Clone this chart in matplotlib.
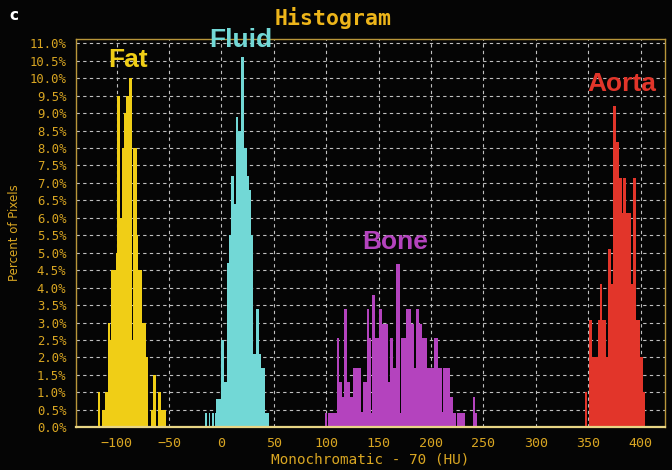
import matplotlib
matplotlib.use("Agg")
import matplotlib.pyplot as plt
from matplotlib.ticker import FuncFormatter, MultipleLocator

# ---- data (HU bin edges, percent of pixels) ----
fat_edges = [-118, -116, -114, -111, -108, -106, -105, -101, -100, -97, -95, -93, -91, -88,
             -85, -84, -81, -80, -76, -72, -70, -67, -65, -62, -61, -58, -53]
fat_pct = [1.0, 0, 0.5, 1.0, 3.0, 2.5, 4.5, 5.0, 9.5, 6.0, 8.0, 9.0, 9.5, 10.0,
           2.5, 8.0, 5.5, 4.5, 3.0, 2.0, 0, 0.5, 1.5, 0, 1.0, 0.5]

fluid_edges = [-16, -14, -12, -10.5, -9, -7.5, -6.5, -5, 0, 2.5, 5, 7, 9, 12, 13.5, 16,
               19, 21.5, 24, 26, 28.5, 30, 32.5, 35.5, 38, 42, 45]
fluid_pct = [0.4, 0, 0.4, 0, 0.4, 0, 0.4, 0.8, 2.5, 1.3, 4.7, 5.5, 7.2, 6.4, 8.9,
             8.5, 10.6, 8.0, 7.2, 6.8, 5.5, 2.1, 3.4, 2.1, 1.7, 0.4]

bone_edges = [99, 101, 102, 110, 112, 115, 117, 120, 123, 126, 133.5, 135, 139, 141, 143,
              144, 147, 150, 153, 159, 161, 164, 167, 170, 171, 176, 181, 184, 186, 189,
              191, 196, 203, 207, 210, 211, 218, 221, 224, 225, 232, 240, 242, 244]
bone_pct = [0.42, 0, 0.42, 2.55, 1.3, 0.88, 3.4, 1.3, 0.88, 1.7, 0.45, 1.3, 3.4, 2.55,
            0.42, 3.8, 2.55, 3.4, 2.96, 1.3, 2.55, 1.7, 4.67, 0.42, 2.55, 3.4, 2.96, 1.7,
            3.4, 2.96, 2.55, 1.7, 2.55, 1.7, 0.45, 1.7, 0.88, 0.42, 0, 0.42, 0, 0.88, 0.42]

aorta_edges = [347, 349, 351, 354, 359, 361.5, 363.5, 367, 369, 372, 374, 377, 379.5, 382,
               383, 386.5, 391, 393, 395.5, 399.5, 402.3, 404.5]
aorta_pct = [1.0, 0, 3.06, 2.0, 3.06, 4.1, 3.06, 2.0, 5.1, 4.1, 9.2, 8.16, 7.13, 6.14,
             7.13, 6.14, 4.1, 7.13, 3.06, 2.0, 1.0]

series = [
    ("Fat", fat_edges, fat_pct, "#F0CE16", (-89, 10.52)),
    ("Fluid", fluid_edges, fluid_pct, "#72D8D6", (18.5, 11.1)),
    ("Bone", bone_edges, bone_pct, "#B443BE", (166, 5.31)),
    ("Aorta", aorta_edges, aorta_pct, "#E2352A", (382, 9.84)),
]

x_ticks = [-100, -50, 0, 50, 100, 150, 200, 250, 300, 350, 400]

gold = "#D9A622"
bg = "#050505"

fig = plt.figure(figsize=(6.72, 4.70), dpi=100, facecolor=bg)
ax = fig.add_axes([0.1131, 0.0909, 0.8765, 0.8262], facecolor=bg)

for name, edges, pct, color, (lx, ly) in series:
    ax.stairs(pct, edges, fill=True, color=color, baseline=0, zorder=2)
    ax.text(lx, ly, name, color=color, fontsize=19, fontweight="bold",
            family="Liberation Sans", ha="center", va="center", clip_on=False, zorder=5)

ax.set_xlim(-138.8, 423.3)
ax.set_ylim(0, 11.125)
ax.set_xticks(x_ticks)
ax.yaxis.set_major_locator(MultipleLocator(0.5))
ax.yaxis.set_major_formatter(FuncFormatter(lambda v, p: f"{v:.1f}%"))

ax.set_axisbelow(True)
ax.grid(True, color="#C0C0C0", linestyle=(0, (3, 3)), linewidth=0.8)

for side in ["left", "top", "right"]:
    ax.spines[side].set_color("#B8963A")
    ax.spines[side].set_linewidth(1.0)
ax.spines["bottom"].set_color("#E8D585")
ax.spines["bottom"].set_linewidth(1.6)

ax.tick_params(axis="both", length=0, colors=gold)
ax.tick_params(axis="y", pad=7, labelsize=8.8)
ax.tick_params(axis="x", pad=7, labelsize=9.6)
for lab in ax.get_xticklabels() + ax.get_yticklabels():
    lab.set_family("DejaVu Sans Mono")
    lab.set_color(gold)

ax.set_xlabel("Monochromatic - 70 (HU)", color=gold, fontsize=10.4,
              family="DejaVu Sans Mono", labelpad=2)
ax.set_ylabel("Percent of Pixels", color=gold, fontsize=8.5,
              family="DejaVu Sans", labelpad=6)

fig.text(333 / 672, 1 - 18 / 470, "Histogram", color="#EDB51A", fontsize=15.5,
         fontweight="bold", family="DejaVu Sans Mono", ha="center", va="center")
fig.text(14 / 672, 1 - 15 / 470, "c", color="white", fontsize=11,
         fontweight="bold", family="DejaVu Sans", ha="center", va="center")

fig.savefig("out.png", dpi=100, facecolor=bg)
